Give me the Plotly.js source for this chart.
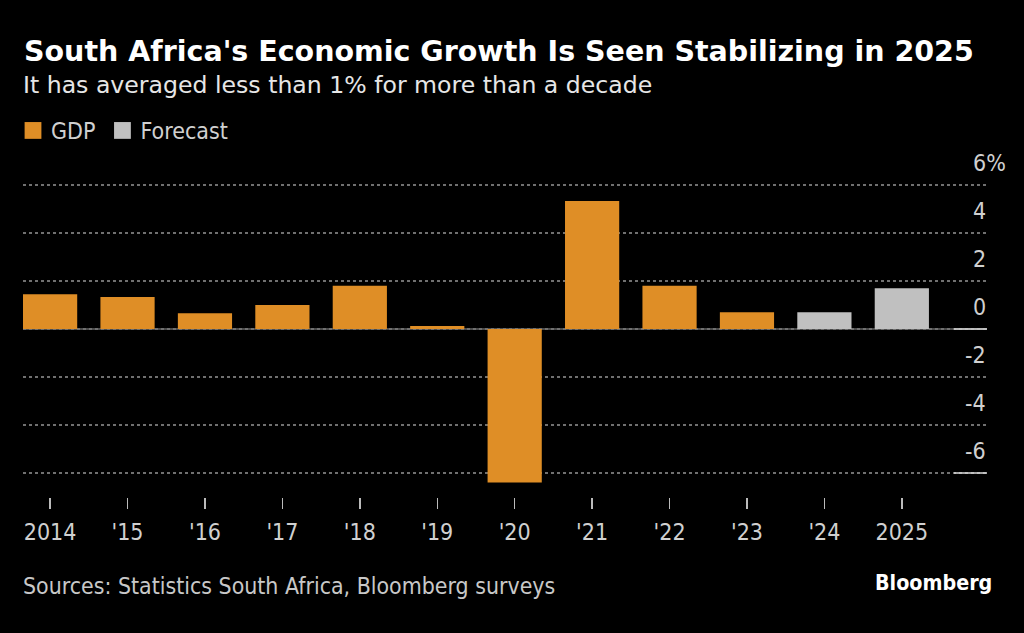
<!DOCTYPE html>
<html><head><meta charset="utf-8">
<script src="https://cdn.plot.ly/plotly-3.0.1.min.js"></script>
<style>html,body{margin:0;padding:0;background:#000}</style></head>
<body><div id="chart" style="width:1024px;height:633px"></div>
<script>
const years = [0,1,2,3,4,5,6,7,8,9,10,11];
const tickLabels = ['2014',"'15","'16","'17","'18","'19","'20","'21","'22","'23","'24",'2025'];
const gdpX = [0,1,2,3,4,5,6,7,8,9];
const gdpValues = [1.45,1.33,0.66,1.0,1.8,0.13,-6.4,5.33,1.8,0.7];
const forecastX = [10,11];
const forecastValues = [0.7,1.7];
const yTicks = [6,4,2,0,-2,-4,-6];
const yLabels = ['6%','4','2','0','-2','-4','-6'];
const W=1024,H=633,L=23,R=987,T=178,B=497;
const FONT='"DejaVu Sans", sans-serif';
const COND='"DejaVu Sans Condensed", "DejaVu Sans", sans-serif';
const tickAnn = yTicks.map((v,i)=>({
  xref:'paper', yref:'y', x: v===6 ? 1-15/(R-L) : 1, y:v, xanchor: v===6?'left':'right', yanchor:'bottom',
  text:yLabels[i], showarrow:false, font:{family:COND,size:23,color:'#d0d0d0'}, xshift:0, yshift:8, borderpad:0
}));
const textAnn = (t,x,y,size,color,weight,ax,fam)=>({xref:'paper',yref:'paper',x:(x-L)/(R-L),y:(B-y)/(B-T),
  text:t,showarrow:false,xanchor:ax||'left',yanchor:'middle',font:{family:fam||COND,size:size,color:color,weight:weight||400}});
const layout = {
  width:W,height:H,paper_bgcolor:'#000',plot_bgcolor:'#000',
  margin:{l:L,r:W-R,t:T,b:H-B,pad:0,autoexpand:false},
  barmode:'overlay',bargap:0.3,
  font:{family:COND,color:'#d0d0d0'},
  xaxis:{range:[-0.35,12.1],tickvals:years,ticktext:tickLabels,ticks:'outside',ticklen:11,tickwidth:1.5,tickcolor:'#bbb',ticklabelstandoff:3,
    showgrid:false,zeroline:false,showline:false,tickfont:{family:COND,size:23,color:'#d0d0d0'}},
  yaxis:{range:[-7,(329-T)/24],tickvals:yTicks,showticklabels:false,ticks:'',showgrid:true,gridcolor:'#707070',griddash:'3px,3px',gridwidth:1.2,
    zeroline:false,showline:false},
  showlegend:true,
  legend:{orientation:'h',x:-12/(R-L),xanchor:'left',y:1+(T-109)/(B-T),yanchor:'top',bgcolor:'rgba(0,0,0,0)',
    font:{family:COND,size:23,color:'#d0d0d0'},traceorder:'normal'},
  shapes:[
    {type:'line',xref:'paper',yref:'y',x0:0,x1:1,y0:0,y1:0,line:{color:'#666',width:1.5},layer:'below'},
    {type:'line',xref:'paper',yref:'y',x0:(954-L)/(R-L),x1:1,y0:0,y1:0,line:{color:'#ddd',width:1.5}},
    {type:'line',xref:'paper',yref:'y',x0:(954-L)/(R-L),x1:1,y0:-6,y1:-6,line:{color:'#ddd',width:1.5}}
  ],
  annotations:[
    ...tickAnn,
    textAnn("South Africa's Economic Growth Is Seen Stabilizing in 2025",22,52,28.5,'#fff',700,'left',FONT),
    textAnn('It has averaged less than 1% for more than a decade',21,85,23.6,'#e6e6e6',400,'left',FONT),
    textAnn('Sources: Statistics South Africa, Bloomberg surveys',21,586,22.9,'#c8c8c8'),
    textAnn('Bloomberg',994,582,21.3,'#fff',700,'right')
  ]
};
const traces=[
 {type:'bar',name:'GDP',x:gdpX,y:gdpValues,width:0.7,marker:{color:'#df8e26',line:{width:0}}},
 {type:'bar',name:'Forecast',x:forecastX,y:forecastValues,width:0.7,marker:{color:'#c0c0c0',line:{width:0}}}
];
Plotly.newPlot('chart',traces,layout,{displayModeBar:false,staticPlot:true}).then(()=>{
  document.querySelectorAll('.legendpoints path').forEach(p=>p.setAttribute('transform','translate(22,0) scale(1.4)'));
});
</script></body></html>
